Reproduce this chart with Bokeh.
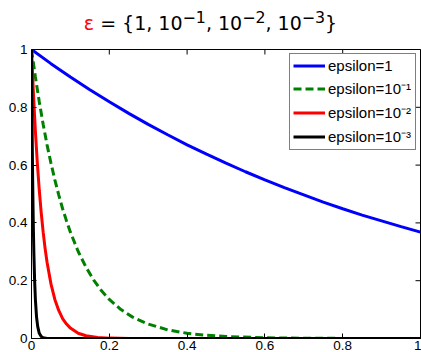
import math
from bokeh.plotting import figure
from bokeh.layouts import column
from bokeh.models import Range1d, LinearAxis, FixedTicker, Legend, LegendItem, Div
from bokeh.embed import file_html
from bokeh.resources import INLINE

# ---- data ----
x_eps1 = [0.00, 0.05, 0.10, 0.15, 0.20, 0.25, 0.30, 0.35, 0.40, 0.45, 0.50,
          0.55, 0.60, 0.65, 0.70, 0.75, 0.80, 0.85, 0.90, 0.95, 1.00]
y_eps1 = [1.000, 0.951, 0.905, 0.861, 0.819, 0.779, 0.741, 0.705, 0.670, 0.638, 0.607,
          0.577, 0.549, 0.522, 0.497, 0.472, 0.449, 0.427, 0.407, 0.387, 0.368]

x_eps2 = [0.00, 0.01, 0.02, 0.03, 0.04, 0.05, 0.06, 0.07, 0.08, 0.09, 0.10, 0.12,
          0.14, 0.16, 0.18, 0.20, 0.23, 0.26, 0.30, 0.35, 0.40, 0.45, 0.50, 0.60,
          0.70, 0.80, 1.00]
y_eps2 = [1.000, 0.905, 0.819, 0.741, 0.670, 0.607, 0.549, 0.497, 0.449, 0.407, 0.368, 0.301,
          0.247, 0.202, 0.165, 0.135, 0.100, 0.074, 0.050, 0.030, 0.018, 0.011, 0.007, 0.0025,
          0.001, 0.0003, 0.000]

x_eps3 = [0.000, 0.005, 0.010, 0.015, 0.020, 0.025, 0.030, 0.035, 0.040, 0.050, 0.060,
          0.070, 0.080, 0.090, 0.100, 0.120, 0.140, 0.170, 0.200, 0.250, 1.000]
y_eps3 = [1.000, 0.846, 0.717, 0.607, 0.513, 0.435, 0.368, 0.311, 0.264, 0.189, 0.135,
          0.097, 0.069, 0.050, 0.036, 0.018, 0.0094, 0.0035, 0.0013, 0.0002, 0.000]

x_eps4 = [0.000, 0.001, 0.002, 0.003, 0.004, 0.005, 0.006, 0.008, 0.010, 0.013, 0.016,
          0.020, 0.025, 0.030, 0.040, 1.000]
y_eps4 = [1.000, 0.819, 0.670, 0.549, 0.449, 0.368, 0.301, 0.202, 0.135, 0.074, 0.041,
          0.018, 0.0067, 0.0025, 0.0003, 0.000]

series_labels = ["epsilon=1", "epsilon=10\u207b\u00b9", "epsilon=10\u207b\u00b2", "epsilon=10\u207b\u00b3"]
x_ticks = [0, 0.2, 0.4, 0.6, 0.8, 1]
y_ticks = [0, 0.2, 0.4, 0.6, 0.8, 1]
tick_labels = {0: "0", 0.2: "0.2", 0.4: "0.4", 0.6: "0.6", 0.8: "0.8", 1: "1"}
title_html = ('<span style="color:#ff0000">\u03b5</span> = {1, 10<sup>\u22121</sup>, '
              '10<sup>\u22122</sup>, 10<sup>\u22123</sup>}')

FONT = "Liberation Sans"
TITLE_H = 40

title_div = Div(text=('<div style="width:421px;text-align:center;font-family:\'DejaVu Sans\';'
                      'font-size:19px;color:black;line-height:22px;padding-top:7px;'
                      'white-space:nowrap">' + title_html + '</div>'),
                width=421, height=TITLE_H, margin=0)

p = figure(width=421, height=352 - TITLE_H, output_backend="svg", toolbar_location=None,
           x_range=Range1d(0, 1), y_range=Range1d(0, 1), title=None,
           min_border_left=31, min_border_right=1, min_border_top=49 - TITLE_H,
           min_border_bottom=0, x_axis_location=None, y_axis_location=None, margin=0)
p.grid.visible = False
p.outline_line_color = "black"
p.outline_line_width = 1
p.background_fill_color = "white"
p.border_fill_color = "white"


def make_axis(standoff):
    ax = LinearAxis()
    ax.ticker = FixedTicker(ticks=x_ticks)
    ax.major_label_overrides = tick_labels
    ax.major_tick_in = 5
    ax.major_tick_out = 0
    ax.minor_tick_line_color = None
    ax.axis_line_color = "black"
    ax.major_tick_line_color = "black"
    ax.major_label_text_font = FONT
    ax.major_label_text_color = "black"
    ax.major_label_text_font_size = "13.5px"
    ax.major_label_standoff = standoff
    return ax


p.add_layout(make_axis(2), "below")
p.add_layout(make_axis(4), "left")

# inward ticks on the top and right edges (half of each dash is clipped by the frame)
p.scatter(x_ticks, [1] * len(x_ticks), marker="dash", size=10, angle=math.pi / 2,
          line_color="black", line_width=1)
p.scatter([1] * len(y_ticks), y_ticks, marker="dash", size=10, angle=0,
          line_color="black", line_width=1)

r1 = p.line(x_eps1, y_eps1, line_color="#0000ff", line_width=3)
r2 = p.line(x_eps2, y_eps2, line_color="#008000", line_width=3, line_dash="8 4")
r3 = p.line(x_eps3, y_eps3, line_color="#ff0000", line_width=3)
r4 = p.line(x_eps4, y_eps4, line_color="#000000", line_width=3)

legend = Legend(items=[LegendItem(label=series_labels[i], renderers=[r])
                       for i, r in enumerate([r1, r2, r3, r4])],
                location="top_right")
legend.border_line_color = "black"
legend.border_line_width = 1
legend.background_fill_alpha = 1
legend.label_text_font = FONT
legend.label_text_font_size = "15px"
legend.label_text_color = "black"
legend.glyph_width = 32
legend.glyph_height = 17
legend.label_height = 17
legend.label_width = 84
legend.label_standoff = 3
legend.spacing = 4
legend.padding = 3
legend.margin = 4
p.add_layout(legend, "center")

layout = column(title_div, p, spacing=0, margin=0)
open("out.html", "w").write(file_html(layout, INLINE))
